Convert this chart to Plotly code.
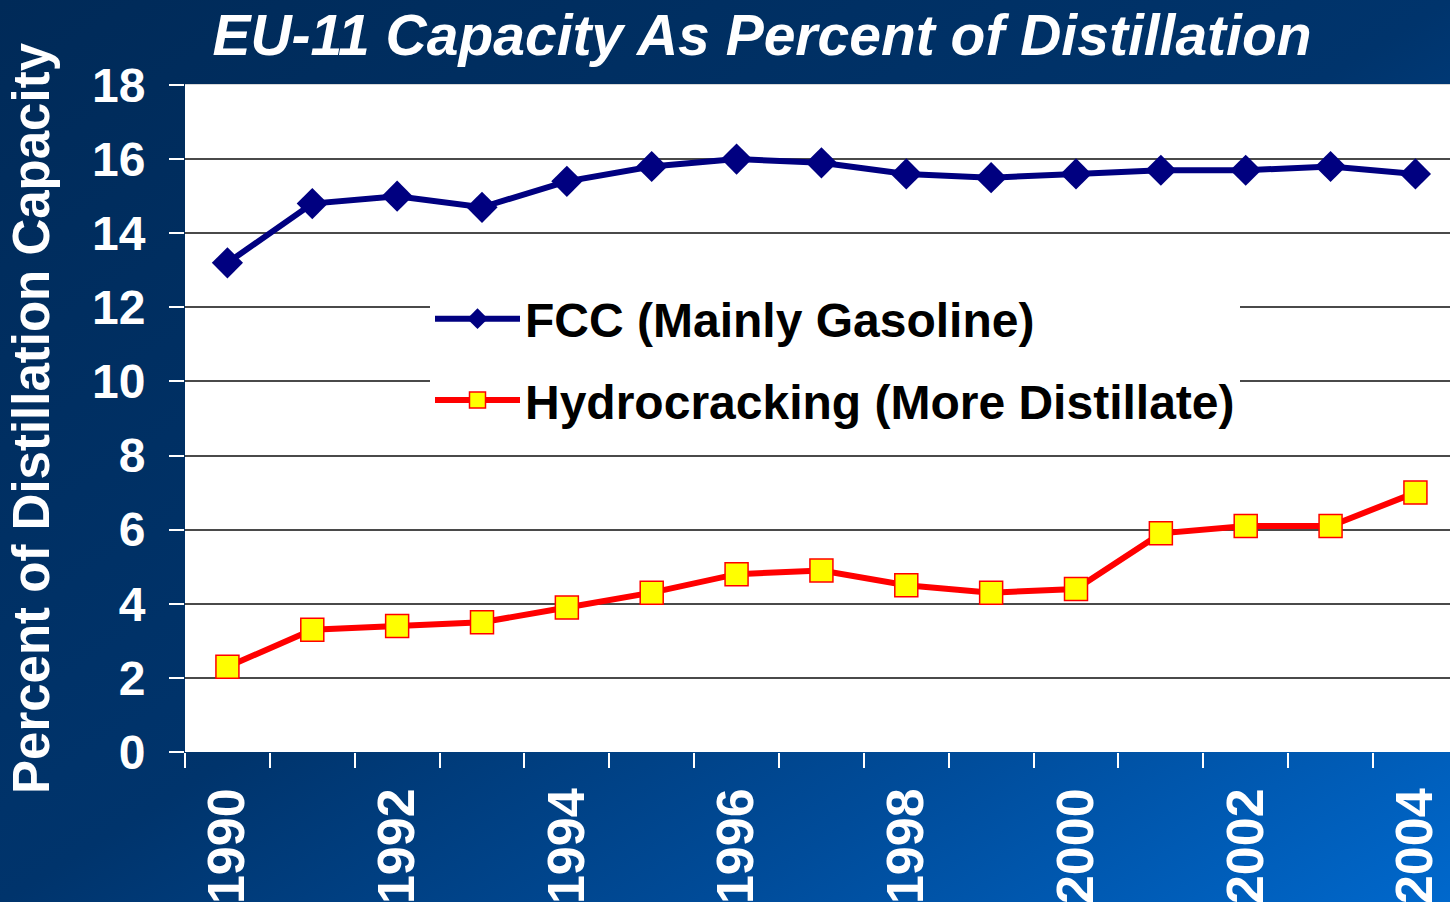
import base64
import plotly.graph_objects as go

years = list(range(1990, 2005))
fcc = [13.2, 14.8, 15.0, 14.7, 15.4, 15.8, 16.0, 15.9, 15.6, 15.5, 15.6, 15.7, 15.7, 15.8, 15.6]
hydro = [2.3, 3.3, 3.4, 3.5, 3.9, 4.3, 4.8, 4.9, 4.5, 4.3, 4.4, 5.9, 6.1, 6.1, 7.0]
year_labels = [str(y) for y in range(1990, 2005, 2)]
y_ticks = list(range(0, 19, 2))

W, H = 1450, 902
L, R, T, B = 185, 0, 85, 150
pw, ph = W - L - R, H - T - B
step = (1415.5 - 227.5) / 14.0

svg = f'''<svg xmlns="http://www.w3.org/2000/svg" width="{W}" height="{H}" viewBox="0 0 {W} {H}" preserveAspectRatio="none">
<defs><linearGradient id="g" x1="0" y1="0" x2="1" y2="1">
<stop offset="0" stop-color="#002a58"/>
<stop offset="0.5" stop-color="#00346c"/>
<stop offset="0.75" stop-color="#004c9a"/>
<stop offset="1" stop-color="#0068cc"/>
</linearGradient></defs>
<rect x="0" y="0" width="{W}" height="{H}" fill="url(#g)"/>
<rect x="{L}" y="{T - 1}" width="{pw}" height="1" fill="#d8d8d8"/>
<rect x="{L}" y="{T}" width="{pw}" height="{ph}" fill="#ffffff"/>
</svg>'''
src = "data:image/svg+xml;base64," + base64.b64encode(svg.encode()).decode()

FONT = "Liberation Sans, Arial, sans-serif"

fig = go.Figure()
fig.add_trace(go.Scatter(
    x=years, y=fcc, mode="lines+markers", name="FCC (Mainly Gasoline)",
    legendgroup="a",
    line=dict(color="#000080", width=6),
    marker=dict(symbol="diamond", size=24, color="#000080"),
))
fig.add_trace(go.Scatter(
    x=years, y=hydro, mode="lines+markers", name="Hydrocracking (More Distillate)",
    legendgroup="b",
    line=dict(color="#ff0000", width=6),
    marker=dict(symbol="square", size=23, color="#ffff00", line=dict(color="#ff0000", width=1.5)),
))

fig.update_layout(
    width=W, height=H,
    margin=dict(l=L, r=R, t=T, b=B, autoexpand=False),
    paper_bgcolor="#00346c",
    plot_bgcolor="rgba(0,0,0,0)",
    images=[dict(source=src, xref="paper", yref="paper",
                 x=-L / pw, y=1 + T / ph, sizex=W / pw, sizey=H / ph,
                 xanchor="left", yanchor="top", sizing="stretch", layer="below")],
    title=dict(text="<b><i>EU-11 Capacity As Percent of Distillation</i></b>",
               font=dict(family=FONT, size=57, color="white"),
               x=762 / W, xanchor="center", y=1 - 35 / H, yanchor="middle"),
    legend=dict(x=(430 - L) / pw, y=(752 - 281) / ph, xanchor="left", yanchor="top",
                bgcolor="white", borderwidth=0, tracegroupgap=16, itemwidth=85,
                font=dict(family=FONT, size=48, color="black", weight="bold")),
    showlegend=True,
)

fig.update_xaxes(
    range=[1989.5, 1989.5 + pw / step],
    tickvals=list(range(1990, 2005, 2)), ticktext=year_labels,
    tickangle=-90, ticks="", showgrid=False, zeroline=False,
    tickfont=dict(family=FONT, size=52, color="white", weight="bold"),
    ticklabelstandoff=25,
    minor=dict(tickvals=[1989.5 + i for i in range(16)], ticks="outside",
               ticklen=15, tickcolor="white", tickwidth=2, showgrid=False),
    automargin=False, showline=False,
)
fig.update_yaxes(
    range=[0, 18], tickvals=y_ticks, ticks="outside", ticklen=15,
    tickcolor="white", tickwidth=2,
    showgrid=True, gridcolor="#4a4a4a", gridwidth=2, zeroline=False,
    tickfont=dict(family=FONT, size=48, color="white", weight="bold"),
    ticklabelstandoff=14,
    title=dict(text="Percent of Distillation Capacity",
               font=dict(family=FONT, size=51, color="white", weight="bold"),
               standoff=26),
    automargin=False, showline=False,
)

fig.write_html("out.html", config={"displayModeBar": False},
               post_script="document.body.style.margin='0px';")
